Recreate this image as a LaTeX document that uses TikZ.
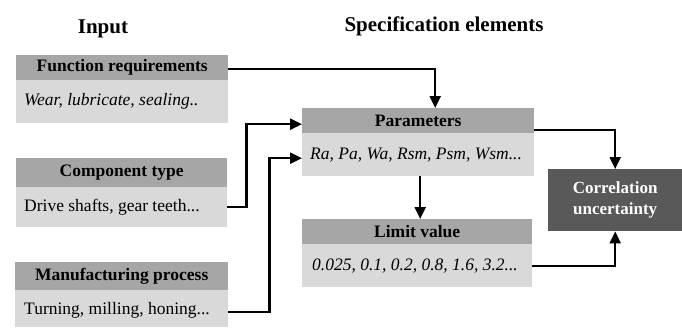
\documentclass[tikz,border=0pt]{standalone}
\usepackage{fontspec}
\setmainfont{Liberation Serif}
\usetikzlibrary{arrows.meta}
\definecolor{hdrgray}{HTML}{A6A6A6}
\definecolor{bdygray}{HTML}{D9D9D9}
\definecolor{darkbox}{HTML}{595959}
\begin{document}
\begin{tikzpicture}[x=1pt,y=-1pt,
  hdr/.style={fill=hdrgray, inner sep=0pt, anchor=north west,
    font=\fontsize{17.5}{20}\selectfont\bfseries},
  bdy/.style={fill=bdygray, inner sep=0pt, anchor=north west},
  btxt/.style={inner sep=0pt, anchor=west, font=\fontsize{17.5}{20}\selectfont},
  ttl/.style={font=\fontsize{21}{24}\selectfont\bfseries},
  arr/.style={line width=2.2pt, -{Triangle[length=12pt,width=11pt]}}]
\useasboundingbox (0,0) rectangle (682,327);
% titles
\node[ttl] (tin) at (103,29) {Input};
\node[ttl] (tspec) at (444,26) {Specification elements};
% input boxes
\node[hdr, minimum width=212pt, minimum height=25pt] (FRh) at (16,55) {Function requirements};
\node[bdy, minimum width=212pt, minimum height=43pt] (FRb) at (16,80) {};
\node[btxt] (FRt) at ([xshift=8pt]FRb.west) {\itshape Wear, lubricate, sealing..};
\node[hdr, minimum width=211pt, minimum height=29pt] (CTh) at (16,158) {Component type};
\node[bdy, minimum width=211pt, minimum height=40pt] (CTb) at (16,187) {};
\node[btxt] (CTt) at ([xshift=8pt]CTb.west) {Drive shafts, gear teeth...};
\node[hdr, minimum width=213pt, minimum height=28pt] (MPh) at (15,262) {Manufacturing process};
\node[bdy, minimum width=213pt, minimum height=37pt] (MPb) at (15,290) {};
\node[btxt] (MPt) at ([xshift=9pt,yshift=-2pt]MPb.west) {Turning, milling, honing...};
% specification boxes
\node[hdr, minimum width=232pt, minimum height=25pt] (PAh) at (302,108) {Parameters};
\node[bdy, minimum width=232pt, minimum height=43pt] (PAb) at (302,133) {};
\node[btxt] (PAt) at ([xshift=8pt]PAb.west) {\itshape Ra, Pa, Wa, Rsm, Psm, Wsm...};
\node[hdr, minimum width=230pt, minimum height=25pt] (LVh) at (302,219) {Limit value};
\node[bdy, minimum width=230pt, minimum height=43pt] (LVb) at (302,244) {};
\node[btxt] (LVt) at ([xshift=10pt]LVb.west) {\itshape 0.025, 0.1, 0.2, 0.8, 1.6, 3.2...};
% correlation
\node[fill=darkbox, text=white, inner sep=0pt, anchor=north west, minimum width=134pt, minimum height=62pt,
  align=center, font=\fontsize{17}{21}\selectfont\bfseries] (CU) at (548,169) {Correlation\\uncertainty};
% connectors
\draw[arr] ([yshift=-1.5pt]FRh.east) -| ([xshift=17pt]PAh.north);
\draw[arr] (CTb.east) -- ++(19,0) |- ([yshift=-3.5pt]PAh.west);
\draw[arr] ([yshift=-3.5pt]MPb.east) -- ++(41,0) |- ([yshift=-3.5pt]PAb.west);
\draw[arr] ([yshift=-9.5pt]PAh.east) -| (CU.north);
\draw[arr] ([xshift=2pt]PAb.south) -- ([xshift=2pt]PAb.south |- LVh.north);
\draw[arr] (LVb.east) -| (CU.south);
\end{tikzpicture}
\end{document}
